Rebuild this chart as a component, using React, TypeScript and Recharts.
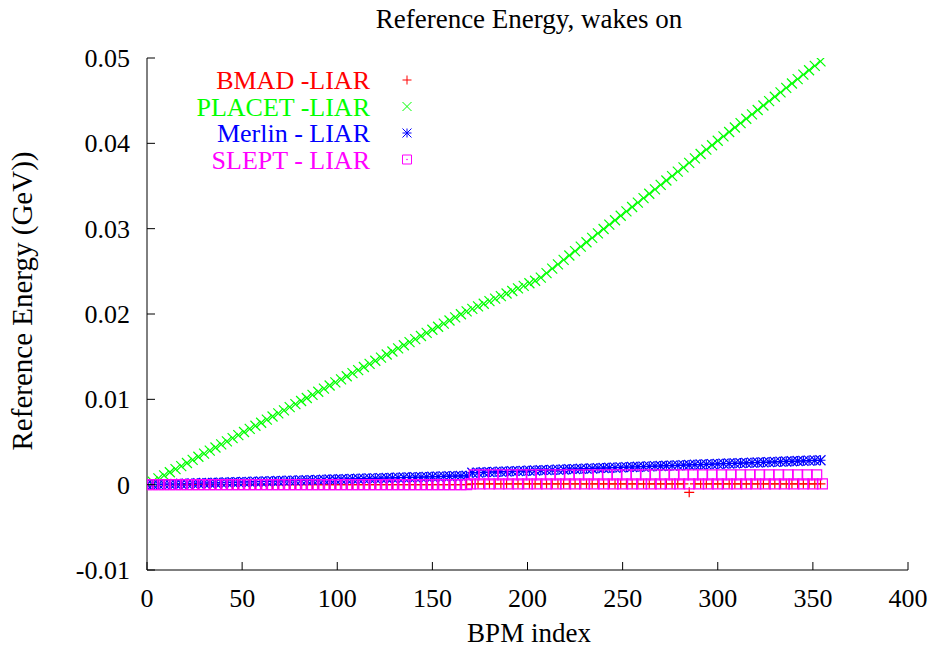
import React from 'react';
import { ScatterChart, Scatter, XAxis, YAxis } from 'recharts';

// ---------- data ----------
const bpm = [0,3,6,9,12,15,18,21,24,27,30,33,36,39,42,45,48,51,54,57,60,63,66,69,72,75,78,81,84,87,90,93,96,99,102,105,108,111,114,117,120,123,126,129,132,135,138,141,144,147,150,153,156,159,162,165,168,171,174,177,180,183,186,189,192,195,198,201,204,207,210,213,216,219,222,225,228,231,234,237,240,243,246,249,252,255,258,261,264,267,270,273,276,279,282,285,288,291,294,297,300,303,306,309,312,315,318,321,324,327,330,333,336,339,342,345,348,351,354];

const bmadLiar = [
  0,0,0,0,0,0,0,0,0,0,0,0,0,0,0,0,0,0,0,0,0,0,0,0,0,0,0,0,0,0,0,0,0,0,0,0,0,0,0,0,0,0,0,0,0,0,0,0,0,0,0,0,0,0,0,0,0,
  0.0001,0.0001,0.0001,0.0001,0.0001,0.0001,0.0001,0.0001,0.0001,0.0001,0.0001,0.0001,0.0001,0.0001,0.0001,0.0001,0.0001,0.0001,0.0001,0.0001,0.0001,0.0001,0.0001,0.0001,0.0001,0.0001,0.0001,0.0001,0.0001,0.0001,0.0001,0.0001,0.0001,0.0001,0.0001,0.0001,0.0001,0.0001,
  -0.0009,
  0.0001,0.0001,0.0001,0.0001,0.0001,0.0001,0.0001,0.0001,0.0001,0.0001,0.0001,0.0001,0.0001,0.0001,0.0001,0.0001,0.0001,0.0001,0.0001,0.0001,0.0001,0.0001,0.0001,
];

const placetLiar = [
  0,0.00036,0.00073,0.00109,0.00145,0.00182,0.00218,0.00254,0.00290,0.00327,0.00363,0.00399,0.00436,0.00472,0.00508,0.00545,0.00581,0.00617,0.00653,0.00690,0.00726,0.00762,0.00799,0.00835,0.00871,0.00908,0.00944,0.00980,0.01016,0.01053,0.01089,0.01125,0.01162,0.01198,0.01234,0.01271,0.01307,0.01343,0.01379,0.01416,0.01452,0.01488,0.01525,0.01561,0.01597,0.01634,0.01670,0.01706,0.01742,0.01779,0.01815,0.01851,0.01888,0.01924,0.01960,0.01997,
  0.02030,0.02060,0.02090,0.02120,0.02150,0.02180,0.02210,0.02240,0.02270,0.02300,0.02330,0.02360,0.02390,
  0.02427,0.02479,0.02531,0.02582,0.02634,0.02686,0.02737,0.02789,0.02841,0.02892,0.02944,0.02996,0.03048,0.03099,0.03151,0.03203,0.03254,0.03306,0.03358,0.03409,0.03461,0.03513,0.03564,0.03616,0.03668,0.03719,0.03771,0.03823,0.03875,0.03926,0.03978,0.04030,0.04081,0.04133,0.04185,0.04236,0.04288,0.04340,0.04391,0.04443,0.04495,0.04546,0.04598,0.04650,0.04701,0.04753,0.04805,0.04857,0.04908,0.04960,
];

const merlinLiar = [
  0,0.00002,0.00004,0.00006,0.00007,0.00009,0.00011,0.00013,0.00015,0.00017,0.00019,0.00020,0.00022,0.00024,0.00026,0.00028,0.00030,0.00032,0.00033,0.00035,0.00037,0.00039,0.00041,0.00043,0.00045,0.00047,0.00048,0.00050,0.00052,0.00054,0.00056,0.00058,0.00060,0.00061,0.00063,0.00065,0.00067,0.00069,0.00071,0.00073,0.00074,0.00076,0.00078,0.00080,0.00082,0.00084,0.00086,0.00087,0.00089,0.00091,0.00093,0.00095,0.00097,0.00099,0.00100,0.00102,0.00104,
  0.00140,0.00142,0.00145,0.00147,0.00150,0.00152,0.00154,0.00157,0.00159,0.00162,0.00164,0.00166,0.00169,0.00171,0.00174,0.00176,0.00178,0.00181,0.00183,0.00186,0.00188,0.00190,0.00193,0.00195,0.00198,0.00200,0.00202,0.00205,0.00207,0.00210,0.00212,0.00214,0.00217,0.00219,0.00222,0.00224,0.00226,0.00229,0.00231,0.00234,0.00236,0.00238,0.00241,0.00243,0.00246,0.00248,0.00250,0.00253,0.00255,0.00258,0.00260,0.00262,0.00265,0.00267,0.00270,0.00272,0.00274,0.00277,0.00279,0.00282,0.00284,0.00286,
];

const sleptBpm = [
  0,3,6,9,12,15,18,21,24,27,30,33,36,39,42,45,48,51,54,57,60,63,66,69,72,75,78,81,84,87,90,93,96,99,102,105,108,111,114,117,120,123,126,129,132,135,138,141,144,147,150,153,156,159,162,165,168,
  170,175,180,185,190,195,200,205,210,215,220,225,230,235,240,245,250,255,260,265,270,275,280,285,290,295,300,305,310,315,320,325,330,335,340,345,350,355,
  172,177,182,187,192,197,202,207,212,217,222,227,232,237,242,247,252,257,262,267,272,277,282,287,292,297,302,307,312,317,322,327,332,337,342,347,352,
];
const sleptLiar = [
  0,0,0,0,0,0,0,0,0,0,0,0,0,0,0,0,0,0,0,0,0,0,0,0,0,0,0,0,0,0,0,0,0,0,0,0,0,0,0,0,0,0,0,0,0,0,0,0,0,0,0,0,0,0,0,0,0,
  0.0001,0.0001,0.0001,0.0001,0.0001,0.0001,0.0001,0.0001,0.0001,0.0001,0.0001,0.0001,0.0001,0.0001,0.0001,0.0001,0.0001,0.0001,0.0001,0.0001,0.0001,0.0001,0.0001,0.0001,0.0001,0.0001,0.0001,0.0001,0.0001,0.0001,0.0001,0.0001,0.0001,0.0001,0.0001,0.0001,0.0001,0.0001,
  0.00115,0.00115,0.00115,0.00115,0.00115,0.00115,0.00115,0.00115,0.00115,0.00115,0.00115,0.00115,0.00115,0.00115,0.00115,0.00115,0.00115,0.00115,0.00115,0.00115,0.00115,0.00115,0.00115,0.00115,0.00115,0.00115,0.00115,0.00115,0.00115,0.00115,0.00115,0.00115,0.00115,0.00115,0.00115,0.00115,0.00115,
];

const xTicks = [0, 50, 100, 150, 200, 250, 300, 350, 400];
const yTicks = [-0.01, 0, 0.01, 0.02, 0.03, 0.04, 0.05];
const yTickLabels = ['-0.01', '0', '0.01', '0.02', '0.03', '0.04', '0.05'];
const seriesNames = ['BMAD -LIAR', 'PLACET -LIAR', 'Merlin - LIAR', 'SLEPT - LIAR'];
const seriesColors = ['#ff0000', '#00ff00', '#0000ff', '#ff00ff'];
const titleText = 'Reference Energy, wakes on';
const xLabel = 'BPM index';
const yLabel = 'Reference Energy (GeV))';

// ---------- layout ----------
const FONT = '"Liberation Serif", "Times New Roman", Times, serif';
const FS = 26;
const W = 938;
const H = 656;
const TL = 8; // tick length
const textStyle = { fontFamily: FONT, fontSize: FS };

const toPoints = (xs: number[], ys: number[]) => xs.map((x, i) => ({ x, y: ys[i] }));
const bmadData = toPoints(bpm, bmadLiar);
const placetData = toPoints(bpm, placetLiar);
const merlinData = toPoints(bpm, merlinLiar);
const sleptData = toPoints(sleptBpm, sleptLiar);

const markerPath = (kind: number, cx: number, cy: number, R: number) => {
  if (kind === 0) return `M${cx - R},${cy}H${cx + R}M${cx},${cy - R}V${cy + R}`;
  if (kind === 1) return `M${cx - R},${cy - R}L${cx + R},${cy + R}M${cx - R},${cy + R}L${cx + R},${cy - R}`;
  if (kind === 2)
    return `M${cx - R},${cy}H${cx + R}M${cx},${cy - R}V${cy + R}M${cx - R},${cy - R}L${cx + R},${cy + R}M${cx - R},${cy + R}L${cx + R},${cy - R}`;
  return `M${cx - R},${cy - R}H${cx + R}V${cy + R}H${cx - R}Z`;
};

const makeShape = (kind: number) => (p: any) => {
  if (p == null || p.cx == null || p.cy == null) return <g />;
  return (
    <path d={markerPath(kind, p.cx, p.cy, 5)} stroke={seriesColors[kind]} strokeWidth={1.2} fill="none" />
  );
};

const BottomTick = (p: any) => (
  <g>
    <line x1={p.x} y1={p.y} x2={p.x} y2={p.y - TL} stroke="#000" strokeWidth={1} />
    <text x={p.x} y={p.y + 37} textAnchor="middle" style={textStyle} fill="#000">
      {p.payload.value}
    </text>
  </g>
);
const TopTick = (p: any) => (
  <line x1={p.x} y1={p.y} x2={p.x} y2={p.y + TL} stroke="#000" strokeWidth={1} />
);
const LeftTick = (p: any) => {
  const idx = yTicks.indexOf(p.payload.value);
  return (
    <g>
      <line x1={p.x} y1={p.y} x2={p.x + TL} y2={p.y} stroke="#000" strokeWidth={1} />
      <text x={p.x - 17} y={p.y + 9} textAnchor="end" style={textStyle} fill="#000">
        {idx >= 0 ? yTickLabels[idx] : String(p.payload.value)}
      </text>
    </g>
  );
};
const RightTick = (p: any) => (
  <line x1={p.x} y1={p.y} x2={p.x - TL} y2={p.y} stroke="#000" strokeWidth={1} />
);

export default function App() {
  const legendBaselines = [89, 115.5, 142, 168.5];
  return (
    <div style={{ position: 'absolute', left: 0, top: 0, width: W, height: H, background: '#fff' }}>
      <ScatterChart width={W} height={H} margin={{ top: 58, right: 30, bottom: 0, left: 0 }}>
        <XAxis
          xAxisId="bottom"
          type="number"
          dataKey="x"
          domain={[0, 400]}
          ticks={xTicks}
          interval={0}
          height={86}
          tickSize={0}
          tickMargin={0}
          tickLine={false}
          axisLine={{ stroke: '#000', strokeWidth: 1 }}
          tick={BottomTick}
          allowDataOverflow
        />
        <XAxis
          xAxisId="top"
          orientation="top"
          type="number"
          dataKey="x"
          domain={[0, 400]}
          ticks={xTicks}
          interval={0}
          height={0}
          tickSize={0}
          tickMargin={0}
          tickLine={false}
          axisLine={{ stroke: '#000', strokeWidth: 1 }}
          tick={TopTick}
          allowDataOverflow
        />
        <YAxis
          yAxisId="left"
          type="number"
          dataKey="y"
          domain={[-0.01, 0.05]}
          ticks={yTicks}
          interval={0}
          width={147}
          tickSize={0}
          tickMargin={0}
          tickLine={false}
          axisLine={{ stroke: '#000', strokeWidth: 1 }}
          tick={LeftTick}
          allowDataOverflow
        />
        <YAxis
          yAxisId="right"
          orientation="right"
          type="number"
          dataKey="y"
          domain={[-0.01, 0.05]}
          ticks={yTicks}
          interval={0}
          width={0}
          tickSize={0}
          tickMargin={0}
          tickLine={false}
          axisLine={{ stroke: '#000', strokeWidth: 1 }}
          tick={RightTick}
          allowDataOverflow
        />
        <Scatter name={seriesNames[0]} data={bmadData} xAxisId="bottom" yAxisId="left" shape={makeShape(0)} isAnimationActive={false} />
        <Scatter name={seriesNames[1]} data={placetData} xAxisId="bottom" yAxisId="left" shape={makeShape(1)} isAnimationActive={false} />
        <Scatter name={seriesNames[2]} data={merlinData} xAxisId="bottom" yAxisId="left" shape={makeShape(2)} isAnimationActive={false} />
        <Scatter name={seriesNames[3]} data={sleptData} xAxisId="bottom" yAxisId="left" shape={makeShape(3)} isAnimationActive={false} />
      </ScatterChart>
      <svg
        width={W}
        height={H}
        style={{ position: 'absolute', left: 0, top: 0, pointerEvents: 'none', fontFamily: FONT, fontSize: FS }}
      >
        <text x={529} y={28} textAnchor="middle" fill="#000" style={{ fontFamily: FONT, fontSize: 27 }}>{titleText}</text>
        <text x={529} y={642} textAnchor="middle" fill="#000" style={{ fontFamily: FONT, fontSize: 27 }}>{xLabel}</text>
        <text x={32} y={301} textAnchor="middle" fill="#000" transform="rotate(-90 32 301)" style={{ fontFamily: FONT, fontSize: 29 }}>{yLabel}</text>
        {seriesNames.map((n, i) => (
          <g key={n}>
            <text x={370} y={legendBaselines[i]} textAnchor="end" fill={seriesColors[i]} style={textStyle}>{n}</text>
            <path d={markerPath(i, 407, legendBaselines[i] - 9, 4.5)} stroke={seriesColors[i]} strokeWidth={1} fill="none" />
            {i === 3 ? <circle cx={407} cy={legendBaselines[i] - 9} r={0.8} fill={seriesColors[i]} /> : null}
          </g>
        ))}
      </svg>
    </div>
  );
}
